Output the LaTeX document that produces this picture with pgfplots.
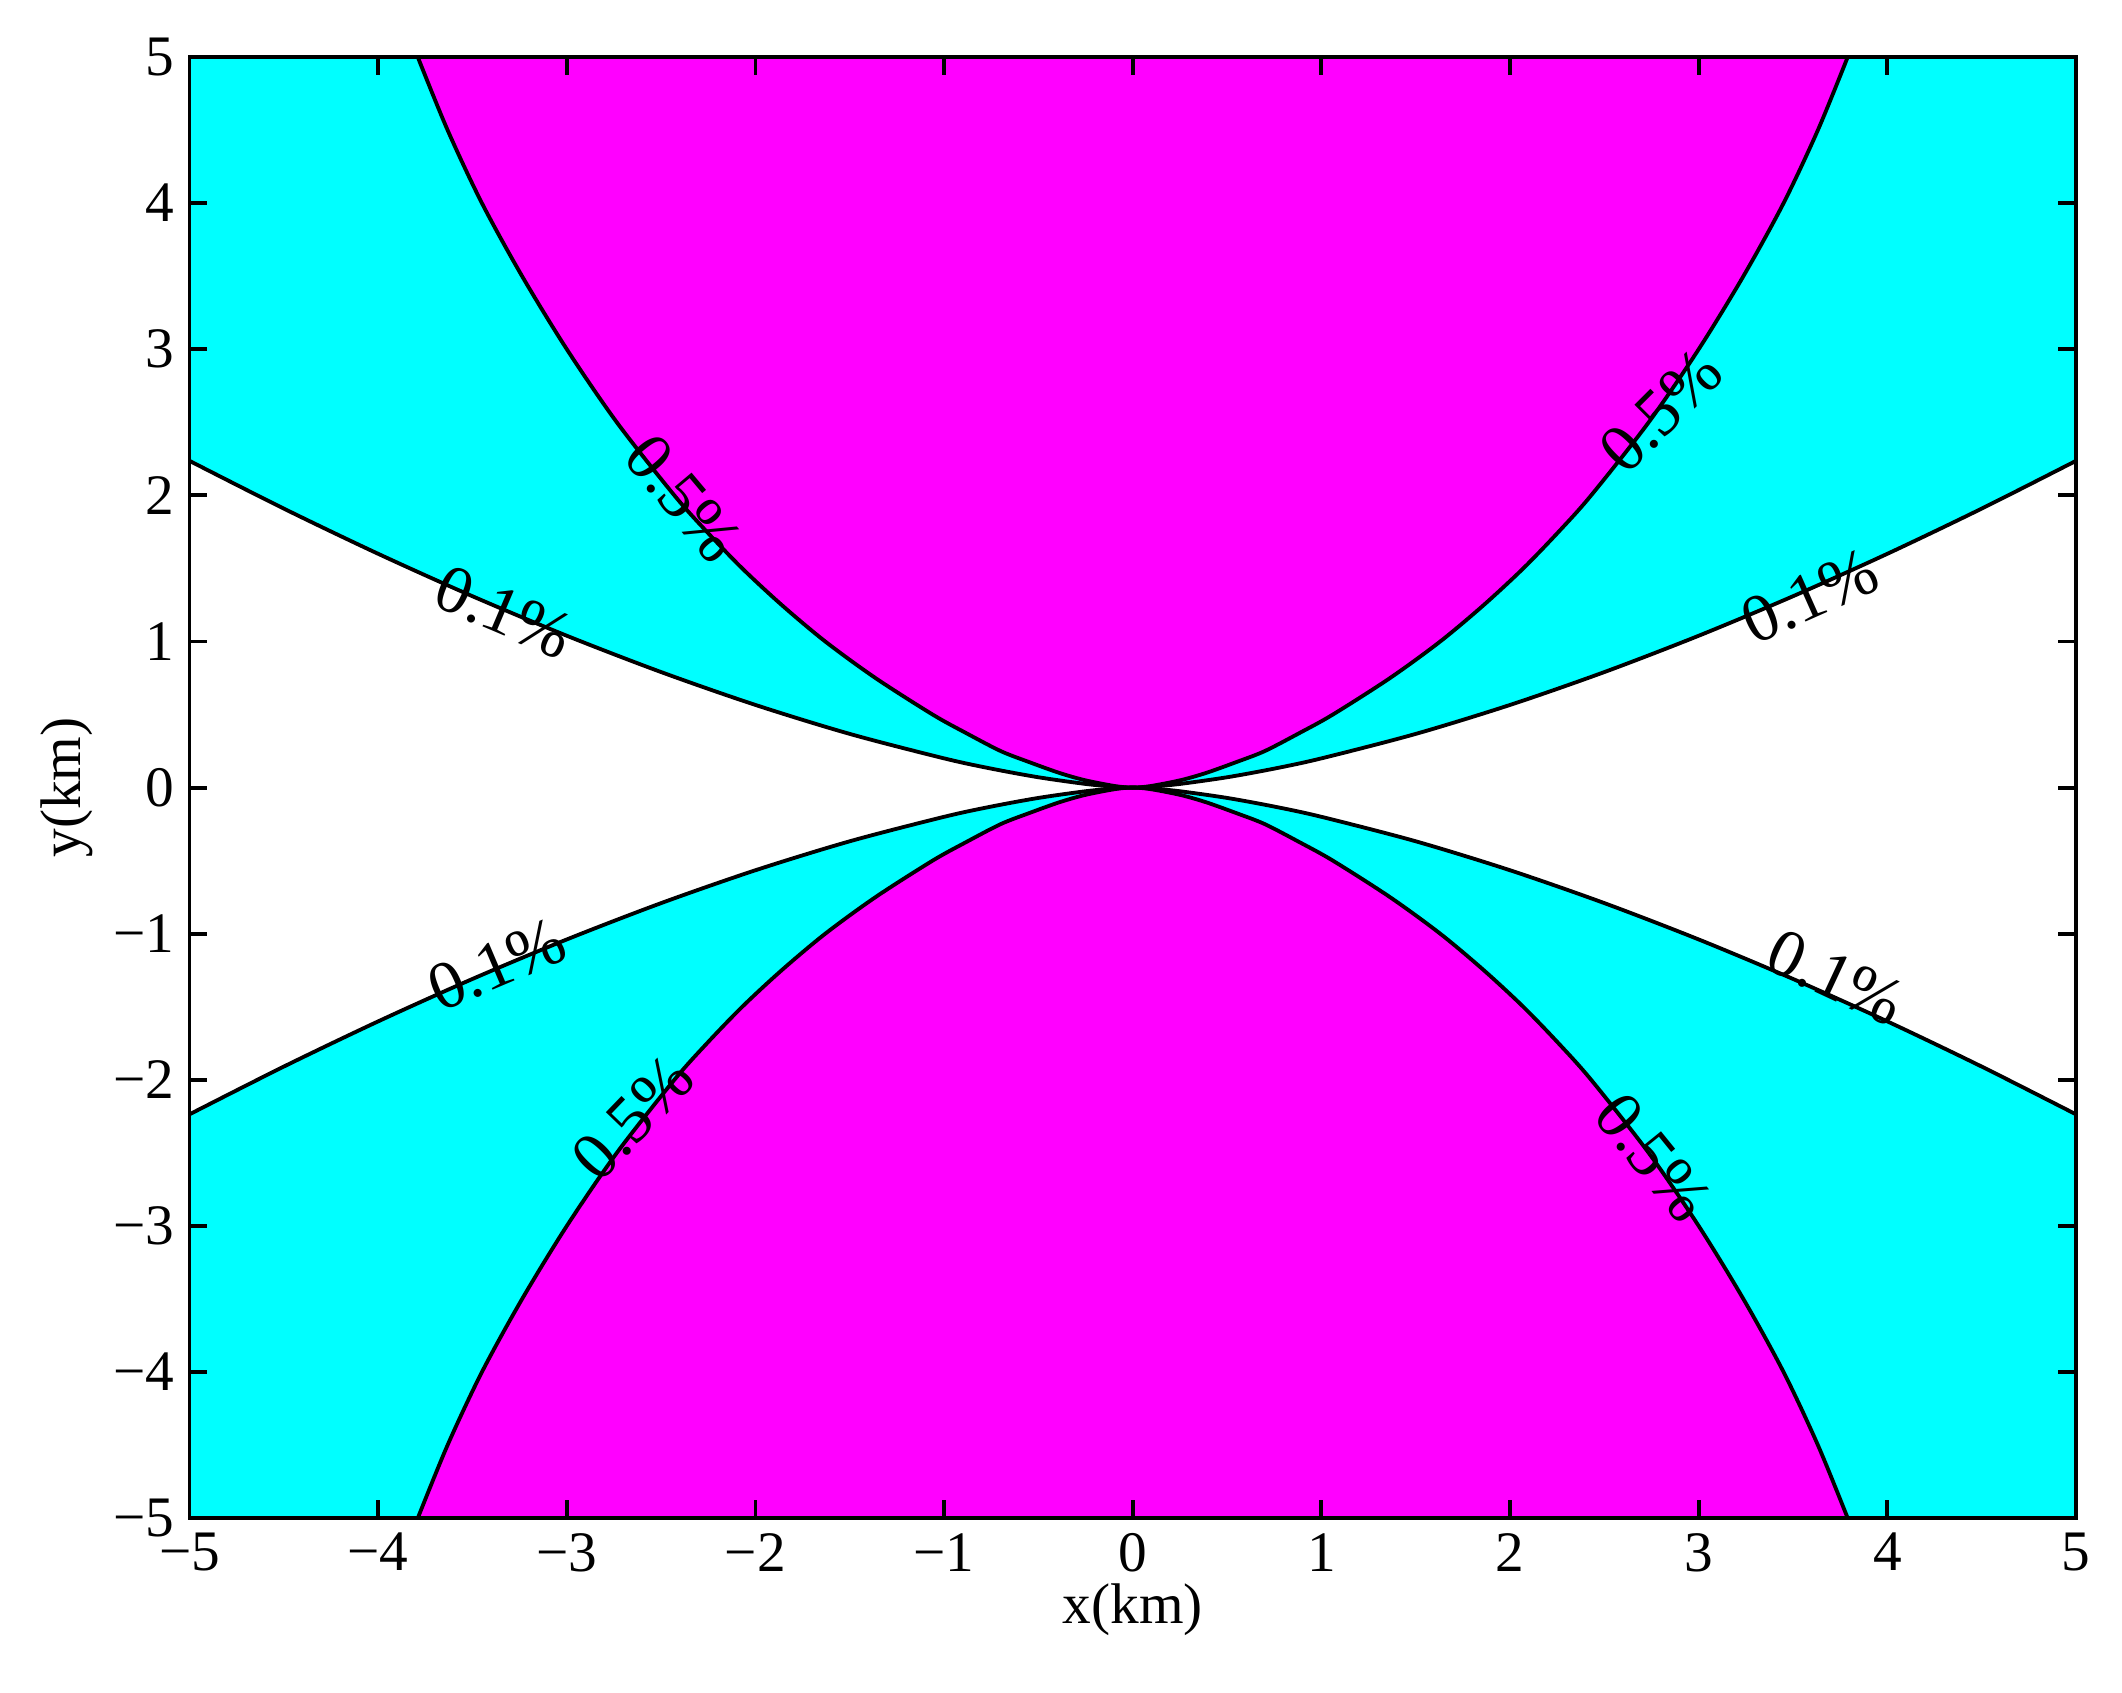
\documentclass[border=0pt]{standalone}
\usepackage{fontspec}
\setmainfont{Liberation Serif}
\usepackage{pgfplots}
\pgfplotsset{compat=1.18}
\definecolor{mcyan}{rgb}{0,1,1}
\definecolor{mmag}{rgb}{1,0,1}
\newcommand{\lblfont}{\fontsize{13.5}{16}\selectfont}
\newcommand{\clfont}{\fontsize{16}{19}\selectfont}
\begin{document}
\begin{tikzpicture}
\begin{axis}[
  name=ax,
  scale only axis, width=444.5pt, height=344.3pt,
  xmin=-5, xmax=5, ymin=-5, ymax=5,
  axis on top,
  axis line style={line width=0.9pt},
  xtick={-5,-4,-3,-2,-1,0,1,2,3,4,5},
  xticklabels={−5,−4,−3,−2,−1,0,1,2,3,4,5},
  ytick={-5,-4,-3,-2,-1,0,1,2,3,4,5},
  yticklabels={−5,−4,−3,−2,−1,0,1,2,3,4,5},
  tick align=inside,
  major tick length=4.2pt,
  tick style={line width=0.9pt, black},
  ticklabel style={font=\lblfont},
  label style={font=\lblfont},
  xlabel={x(km)}, ylabel={y(km)},
  xlabel style={yshift=4pt},
  ylabel style={yshift=-2pt},
]
% cyan: regions beyond the 0.1% curve
\addplot[fill=mcyan, draw=none] coordinates {
(-5,5) (-5,2.2361) (-4.5,1.9092) (-4,1.6) (-3.5,1.3096) (-3,1.0392) (-2.5,0.7906) (-2,0.5657) (-1.5,0.3674) (-1,0.2) (-0.75,0.1299) (-0.5,0.0707) (-0.25,0.025) (-0.1,0.0063) (0,0)
(0.1,0.0063) (0.25,0.025) (0.5,0.0707) (0.75,0.1299) (1,0.2) (1.5,0.3674) (2,0.5657) (2.5,0.7906) (3,1.0392) (3.5,1.3096) (4,1.6) (4.5,1.9092) (5,2.2361) (5,5)
} -- cycle;
\addplot[fill=mcyan, draw=none] coordinates {
(-5,-5) (-5,-2.2361) (-4.5,-1.9092) (-4,-1.6) (-3.5,-1.3096) (-3,-1.0392) (-2.5,-0.7906) (-2,-0.5657) (-1.5,-0.3674) (-1,-0.2) (-0.75,-0.1299) (-0.5,-0.0707) (-0.25,-0.025) (-0.1,-0.0063) (0,0)
(0.1,-0.0063) (0.25,-0.025) (0.5,-0.0707) (0.75,-0.1299) (1,-0.2) (1.5,-0.3674) (2,-0.5657) (2.5,-0.7906) (3,-1.0392) (3.5,-1.3096) (4,-1.6) (4.5,-1.9092) (5,-2.2361) (5,-5)
} -- cycle;
% magenta: regions beyond the 0.5% curve
\addplot[fill=mmag, draw=none] coordinates {
(-3.79,5) (-3.632,4.5) (-3.45,4) (-3.237,3.5) (-3.0,3) (-2.735,2.5) (-2.43,2) (-2.257,1.75) (-2.07,1.5) (-1.861,1.25) (-1.63,1) (-1.364,0.75) (-1.061,0.5) (-0.886,0.375) (-0.70,0.25) (-0.55,0.175) (-0.388,0.1) (-0.2516,0.05) (-0.092,0.01) (0,0)
(0.092,0.01) (0.2516,0.05) (0.388,0.1) (0.55,0.175) (0.70,0.25) (0.886,0.375) (1.061,0.5) (1.364,0.75) (1.63,1) (1.861,1.25) (2.07,1.5) (2.257,1.75) (2.43,2) (2.735,2.5) (3.0,3) (3.237,3.5) (3.45,4) (3.632,4.5) (3.79,5)
} -- cycle;
\addplot[fill=mmag, draw=none] coordinates {
(-3.79,-5) (-3.632,-4.5) (-3.45,-4) (-3.237,-3.5) (-3.0,-3) (-2.735,-2.5) (-2.43,-2) (-2.257,-1.75) (-2.07,-1.5) (-1.861,-1.25) (-1.63,-1) (-1.364,-0.75) (-1.061,-0.5) (-0.886,-0.375) (-0.70,-0.25) (-0.55,-0.175) (-0.388,-0.1) (-0.2516,-0.05) (-0.092,-0.01) (0,0)
(0.092,-0.01) (0.2516,-0.05) (0.388,-0.1) (0.55,-0.175) (0.70,-0.25) (0.886,-0.375) (1.061,-0.5) (1.364,-0.75) (1.63,-1) (1.861,-1.25) (2.07,-1.5) (2.257,-1.75) (2.43,-2) (2.735,-2.5) (3.0,-3) (3.237,-3.5) (3.45,-4) (3.632,-4.5) (3.79,-5)
} -- cycle;
% contour lines
\addplot[black, line width=0.9pt, smooth] coordinates {
(-5,2.2361) (-4.5,1.9092) (-4,1.6) (-3.5,1.3096) (-3,1.0392) (-2.5,0.7906) (-2,0.5657) (-1.5,0.3674) (-1,0.2) (-0.75,0.1299) (-0.5,0.0707) (-0.25,0.025) (-0.1,0.0063) (0,0)
(0.1,0.0063) (0.25,0.025) (0.5,0.0707) (0.75,0.1299) (1,0.2) (1.5,0.3674) (2,0.5657) (2.5,0.7906) (3,1.0392) (3.5,1.3096) (4,1.6) (4.5,1.9092) (5,2.2361)
};
\addplot[black, line width=0.9pt, smooth] coordinates {
(-5,-2.2361) (-4.5,-1.9092) (-4,-1.6) (-3.5,-1.3096) (-3,-1.0392) (-2.5,-0.7906) (-2,-0.5657) (-1.5,-0.3674) (-1,-0.2) (-0.75,-0.1299) (-0.5,-0.0707) (-0.25,-0.025) (-0.1,-0.0063) (0,0)
(0.1,-0.0063) (0.25,-0.025) (0.5,-0.0707) (0.75,-0.1299) (1,-0.2) (1.5,-0.3674) (2,-0.5657) (2.5,-0.7906) (3,-1.0392) (3.5,-1.3096) (4,-1.6) (4.5,-1.9092) (5,-2.2361)
};
\addplot[black, line width=0.9pt, smooth] coordinates {
(-3.79,5) (-3.632,4.5) (-3.45,4) (-3.237,3.5) (-3.0,3) (-2.735,2.5) (-2.43,2) (-2.257,1.75) (-2.07,1.5) (-1.861,1.25) (-1.63,1) (-1.364,0.75) (-1.061,0.5) (-0.886,0.375) (-0.70,0.25) (-0.55,0.175) (-0.388,0.1) (-0.2516,0.05) (-0.092,0.01) (0,0)
(0.092,0.01) (0.2516,0.05) (0.388,0.1) (0.55,0.175) (0.70,0.25) (0.886,0.375) (1.061,0.5) (1.364,0.75) (1.63,1) (1.861,1.25) (2.07,1.5) (2.257,1.75) (2.43,2) (2.735,2.5) (3.0,3) (3.237,3.5) (3.45,4) (3.632,4.5) (3.79,5)
};
\addplot[black, line width=0.9pt, smooth] coordinates {
(-3.79,-5) (-3.632,-4.5) (-3.45,-4) (-3.237,-3.5) (-3.0,-3) (-2.735,-2.5) (-2.43,-2) (-2.257,-1.75) (-2.07,-1.5) (-1.861,-1.25) (-1.63,-1) (-1.364,-0.75) (-1.061,-0.5) (-0.886,-0.375) (-0.70,-0.25) (-0.55,-0.175) (-0.388,-0.1) (-0.2516,-0.05) (-0.092,-0.01) (0,0)
(0.092,-0.01) (0.2516,-0.05) (0.388,-0.1) (0.55,-0.175) (0.70,-0.25) (0.886,-0.375) (1.061,-0.5) (1.364,-0.75) (1.63,-1) (1.861,-1.25) (2.07,-1.5) (2.257,-1.75) (2.43,-2) (2.735,-2.5) (3.0,-3) (3.237,-3.5) (3.45,-4) (3.632,-4.5) (3.79,-5)
};
% contour labels
\node[font=\clfont, rotate=-50] at (axis cs:-2.38,1.98) {0.5\%};
\node[font=\clfont, rotate=45] at (axis cs:2.80,2.58) {0.5\%};
\node[font=\clfont, rotate=-23] at (axis cs:-3.33,1.20) {0.1\%};
\node[font=\clfont, rotate=24] at (axis cs:3.59,1.31) {0.1\%};
\node[font=\clfont, rotate=23] at (axis cs:-3.37,-1.21) {0.1\%};
\node[font=\clfont, rotate=46] at (axis cs:-2.65,-2.26) {0.5\%};
\node[font=\clfont, rotate=-25] at (axis cs:3.73,-1.30) {0.1\%};
\node[font=\clfont, rotate=-51] at (axis cs:2.76,-2.53) {0.5\%};
\end{axis}
\path (ax.south west) ++(-44.65pt,-41pt) coordinate (bbsw);
\path (ax.north east) ++(10.84pt,13.43pt) coordinate (bbne);
\path[use as bounding box] (bbsw) rectangle (bbne);
\end{tikzpicture}
\end{document}
